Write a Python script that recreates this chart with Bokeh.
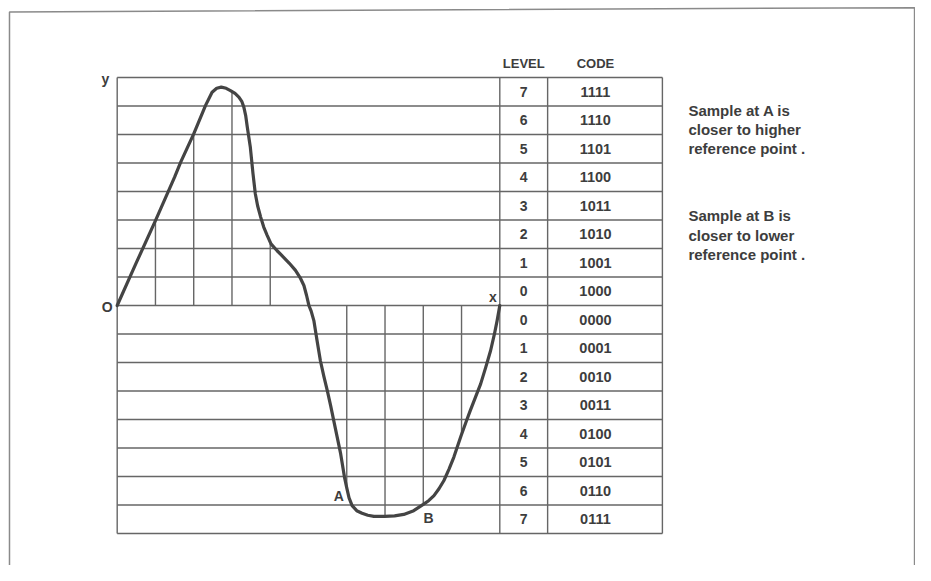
from bokeh.plotting import figure
from bokeh.models import Range1d, ColumnDataSource
from bokeh.core.properties import value
from bokeh.embed import file_html
from bokeh.resources import INLINE

# ---- data ----
# waveform: x in sampling intervals, y in quantisation steps
curve_x = [0.0, 0.5, 1.0, 1.5, 1.66, 2.0, 2.31, 2.48, 2.6, 2.72, 2.85, 2.96, 3.08, 3.18, 3.26,
           3.31, 3.36, 3.4, 3.48, 3.55, 3.61, 3.67, 3.75, 3.83, 3.92, 4.02, 4.18, 4.35, 4.5,
           4.66, 4.78, 4.88, 4.95, 5.01, 5.07, 5.14, 5.22, 5.31, 5.4, 5.49, 5.58, 5.66, 5.75,
           5.84, 5.94, 6.0, 6.06, 6.14, 6.26, 6.4, 6.55, 6.71, 6.99, 7.25, 7.49, 7.75, 8.0,
           8.14, 8.28, 8.41, 8.54, 8.67, 8.8, 8.99, 9.12, 9.23, 9.37, 9.5, 9.63, 9.76, 9.86,
           9.93, 10.0]
curve_y = [0.0, 1.5, 2.98, 4.5, 5.03, 6.02, 7.02, 7.48, 7.62, 7.66, 7.62, 7.54, 7.44, 7.31, 7.15,
           6.96, 6.65, 6.26, 5.55, 4.62, 3.92, 3.5, 3.1, 2.75, 2.46, 2.16, 1.92, 1.69, 1.48,
           1.23, 0.98, 0.7, 0.35, 0.0, -0.2, -0.53, -1.2, -1.93, -2.48, -2.98, -3.52, -4.04, -4.62,
           -5.2, -6.02, -6.4, -6.75, -7.02, -7.2, -7.29, -7.36, -7.4, -7.4, -7.38, -7.33, -7.2, -6.98,
           -6.85, -6.67, -6.43, -6.14, -5.75, -5.32, -4.56, -4.08, -3.68, -3.2, -2.75, -2.18, -1.58, -1.0,
           -0.53, 0.0]

# sample instants and sampled values
sample_x = [1, 2, 3, 4, 6, 7, 8, 9]
sample_y = [2.98, 6.02, 7.54, 2.16, -6.4, -7.4, -6.98, -4.56]

# table
upper_levels = ["0", "1", "2", "3", "4", "5", "6", "7"]
upper_codes = ["1000", "1001", "1010", "1011", "1100", "1101", "1110", "1111"]
lower_levels = ["0", "1", "2", "3", "4", "5", "6", "7"]
lower_codes = ["0000", "0001", "0010", "0011", "0100", "0101", "0110", "0111"]
n_levels = 8
n_samples = 10

notes_a = ["Sample at A is", "closer to higher", "reference point ."]
notes_b = ["Sample at B is", "closer to lower", "reference point ."]

# ---- layout ----
W, H = 915, 565
LINE = "#666666"
TXT = "#3d3d3d"
FONT = value("Liberation Sans")

p = figure(width=W, height=H, output_backend="svg", toolbar_location=None,
           x_range=Range1d(-3.050, 20.865), y_range=Range1d(-9.123, 10.70),
           x_axis_location=None, y_axis_location=None, min_border=0,
           background_fill_color="white", border_fill_color="white")
p.grid.visible = False
p.outline_line_color = None

col_level_l = n_samples
col_level_r = n_samples + 1.25
col_code_r = n_samples + 4.25

# outer frame
p.line([-2.815, -2.815, 20.84, 20.84], [-9.5, 10.3, 10.45, -9.5], line_color="#8a8a8a", line_width=1.5)

# horizontal grid / table rows
hy = list(range(-n_levels, n_levels + 1))
p.segment(x0=[0] * len(hy), y0=hy, x1=[col_code_r] * len(hy), y1=hy, line_color=LINE, line_width=1.4)
# vertical borders
vx = [0, col_level_l, col_level_r, col_code_r]
p.segment(x0=vx, y0=[-n_levels] * 4, x1=vx, y1=[n_levels] * 4, line_color=LINE, line_width=1.4)
# sample verticals
p.segment(x0=sample_x, y0=[0] * len(sample_x), x1=sample_x, y1=sample_y, line_color=LINE, line_width=1.4)

# waveform
p.line(curve_x, curve_y, line_color="#444444", line_width=3.2, line_join="round", line_cap="round")

# table text
lvl_x = (col_level_l + col_level_r) / 2
code_x = 12.5
up_y = [i + 0.5 for i in range(n_levels)]
lo_y = [-(i + 0.5) for i in range(n_levels)]
tsrc = ColumnDataSource(dict(
    lx=[lvl_x] * (2 * n_levels), cx=[code_x] * (2 * n_levels),
    y=up_y + lo_y, lvl=upper_levels + lower_levels, code=upper_codes + lower_codes))
p.text(x="lx", y="y", text="lvl", source=tsrc, text_font=FONT, text_font_style="bold",
       text_font_size="14px", text_color=TXT, text_align="center", text_baseline="middle")
p.text(x="cx", y="y", text="code", source=tsrc, text_font=FONT, text_font_style="bold",
       text_font_size="14.5px", text_color=TXT, text_align="center", text_baseline="middle")

p.text(x=[lvl_x, code_x], y=[8.5, 8.5], text=["LEVEL", "CODE"], text_font=FONT, text_font_style="bold",
       text_font_size="13px", text_color=TXT, text_align="center", text_baseline="middle")

# axis / point labels
p.text(x=[-0.31, -0.26, 9.82, 5.79, 8.14], y=[7.96, -0.04, 0.28, -6.7, -7.45],
       text=["y", "O", "x", "A", "B"], text_font=FONT, text_font_style="bold",
       text_font_size="14px", text_color=TXT, text_align="center", text_baseline="middle")

# notes
p.text(x=[14.93] * 3, y=[6.84, 6.18, 5.52], text=notes_a, text_font=FONT, text_font_style="bold",
       text_font_size="15px", text_color=TXT, text_align="left", text_baseline="middle")
p.text(x=[14.93] * 3, y=[3.16, 2.46, 1.79], text=notes_b, text_font=FONT, text_font_style="bold",
       text_font_size="15px", text_color=TXT, text_align="left", text_baseline="middle")

open("out.html", "w").write(file_html(p, INLINE))
